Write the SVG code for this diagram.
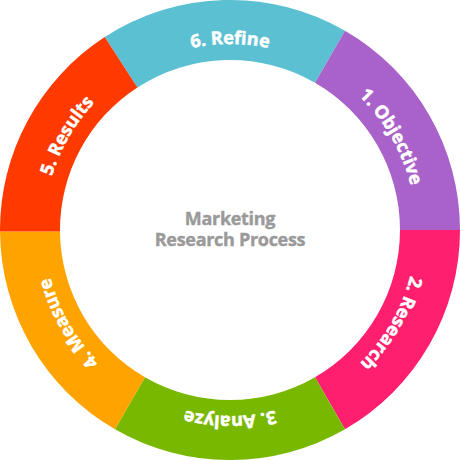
<svg xmlns="http://www.w3.org/2000/svg" xmlns:xlink="http://www.w3.org/1999/xlink" width="460" height="460" viewBox="0 0 460 460">
<style>
.lbl{font-family:"Open Sans","Liberation Sans",sans-serif;font-weight:bold;font-size:18px;fill:#ffffff;stroke:#ffffff;stroke-width:0.5px}
.ctr{font-family:"Open Sans","Liberation Sans",sans-serif;font-weight:bold;font-size:18px;fill:#9a9a9a;stroke:#9a9a9a;stroke-width:0.4px;text-anchor:middle;letter-spacing:-0.3px}
</style>
<defs>
<path id="arc" d="M68.92,137 A186,186 0 0 1 391.08,137"/>
</defs>
<rect width="460" height="460" fill="#ffffff"/>
<g id="seg-refine">
<path d="M104.74,37.1 A230,230 0 0 1 345,30.81 L315,82.78 A170,170 0 0 0 137.42,87.42 Z" fill="#5bc0d1"/>
<text class="lbl"><textPath xlink:href="#arc" href="#arc" startOffset="50%" text-anchor="middle">6. Refine</textPath></text>
</g>
<g id="seg-objective">
<path d="M345,30.81 A230,230 0 0 1 460,230 L400,230 A170,170 0 0 0 315,82.78 Z" fill="#a962c9"/>
<text class="lbl" transform="rotate(60 230 230)"><textPath xlink:href="#arc" href="#arc" startOffset="50%" text-anchor="middle">1. Objective</textPath></text>
</g>
<g id="seg-research">
<path d="M460,230 A230,230 0 0 1 345,429.19 L315,377.22 A170,170 0 0 0 400,230 Z" fill="#ff1f6e"/>
<text class="lbl" transform="rotate(120 230 230)"><textPath xlink:href="#arc" href="#arc" startOffset="50%" text-anchor="middle">2. Research</textPath></text>
</g>
<g id="seg-analyze">
<path d="M345,429.19 A230,230 0 0 1 115,429.19 L145,377.22 A170,170 0 0 0 315,377.22 Z" fill="#79b800"/>
<text class="lbl" transform="rotate(180 230 230)"><textPath xlink:href="#arc" href="#arc" startOffset="50%" text-anchor="middle">3. Analyze</textPath></text>
</g>
<g id="seg-measure">
<path d="M115,429.19 A230,230 0 0 1 0,231.5 L60,231.5 A170,170 0 0 0 145,377.22 Z" fill="#ffa300"/>
<text class="lbl" transform="rotate(240 230 230)"><textPath xlink:href="#arc" href="#arc" startOffset="50%" text-anchor="middle">4. Measure</textPath></text>
</g>
<g id="seg-results">
<path d="M0,231.5 A230,230 0 0 1 104.74,37.1 L137.42,87.42 A170,170 0 0 0 60,231.5 Z" fill="#ff3a00"/>
<text class="lbl" transform="rotate(300 230 230)"><textPath xlink:href="#arc" href="#arc" startOffset="50%" text-anchor="middle">5. Results</textPath></text>
</g>
<g id="center">
<text class="ctr" x="230" y="224.5">Marketing</text>
<text class="ctr" x="230" y="246">Research Process</text>
</g>
</svg>
